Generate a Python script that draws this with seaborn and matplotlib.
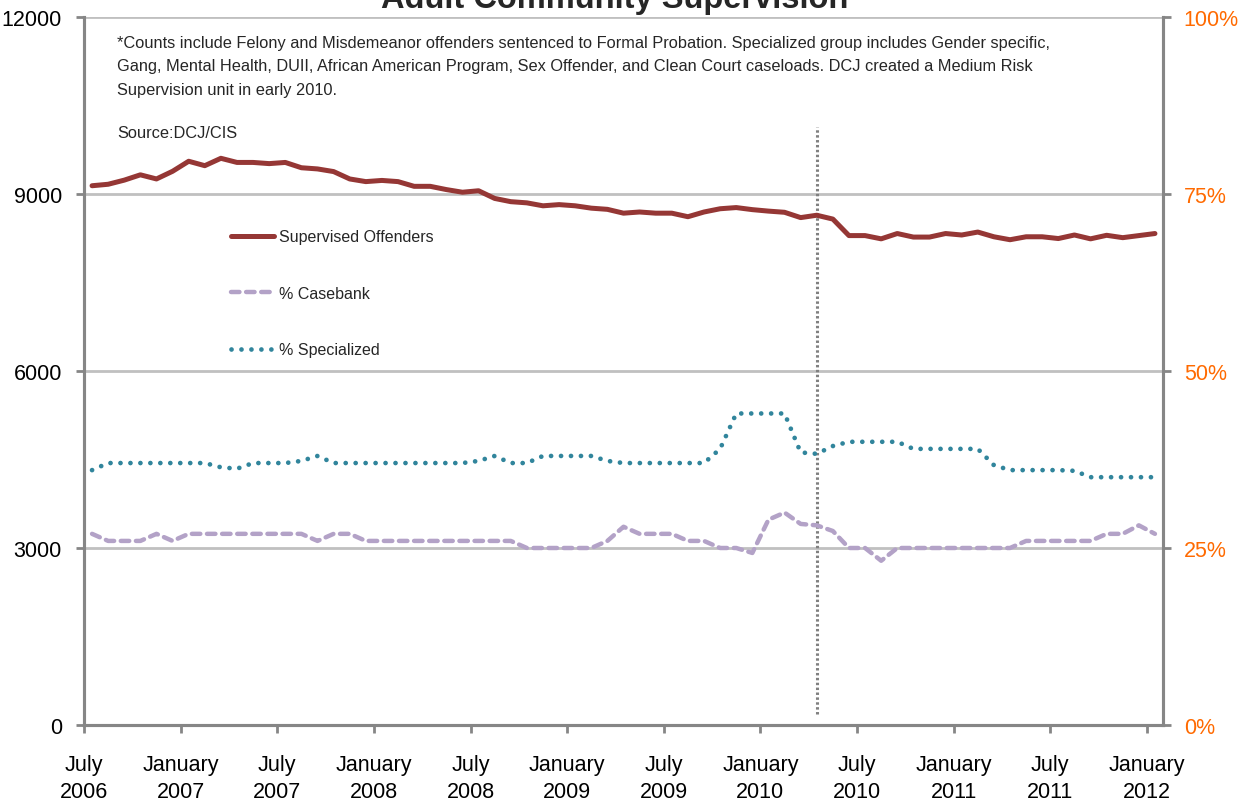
import matplotlib
matplotlib.use("Agg")
import matplotlib.pyplot as plt
import seaborn as sns
import numpy as np
import pandas as pd

# ---------------- data ----------------
months = pd.date_range("2006-07-01", "2012-01-01", freq="MS")
supervised = [9140, 9165, 9235, 9325, 9255, 9385, 9555, 9480, 9605, 9535,
              9535, 9515, 9535, 9445, 9425, 9380, 9255, 9210, 9230, 9210,
              9130, 9130, 9075, 9030, 9055, 8925, 8870, 8850, 8800, 8820,
              8800, 8760, 8740, 8675, 8695, 8675, 8675, 8615, 8695, 8750,
              8770, 8735, 8710, 8690, 8600, 8640, 8575, 8295, 8295, 8240,
              8330, 8270, 8270, 8330, 8305, 8355, 8275, 8225, 8275, 8275,
              8245, 8305, 8240, 8300, 8260, 8295, 8330]
casebank = [27, 26, 26, 26, 27, 26, 27, 27, 27, 27,
            27, 27, 27, 27, 26, 27, 27, 26, 26, 26,
            26, 26, 26, 26, 26, 26, 26, 25, 25, 25,
            25, 25, 26, 28, 27, 27, 27, 26, 26, 25,
            25, 24.3, 29, 30, 28.4, 28.2, 27.4, 25, 25, 23.2,
            25, 25, 25, 25, 25, 25, 25, 25, 26, 26,
            26, 26, 26, 27, 27, 28.2, 27]
specialized = [36, 37, 37, 37, 37, 37, 37, 37, 36.4, 36.2,
               37, 37, 37, 37.3, 38, 37, 37, 37, 37, 37,
               37, 37, 37, 37, 37.3, 38, 37, 37, 38, 38,
               38, 38, 37.3, 37, 37, 37, 37, 37, 37, 39,
               44, 44, 44, 44, 38.5, 38.3, 39.4, 40, 40, 40,
               40, 39, 39, 39, 39, 39, 36.7, 36, 36, 36,
               36, 35.9, 35, 35, 35, 35, 35]
tick_labels = ["July\n2006", "January\n2007", "July\n2007", "January\n2008",
               "July\n2008", "January\n2009", "July\n2009", "January\n2010",
               "July\n2010", "January\n2011", "July\n2011", "January\n2012"]
series_names = ["Supervised Offenders", "% Casebank", "% Specialized"]
title = "Adult Community Supervision"
note = ("*Counts include Felony and Misdemeanor offenders sentenced to Formal Probation. "
        "Specialized group includes Gender specific,\n"
        "Gang, Mental Health, DUII, African American Program, Sex Offender, and Clean Court "
        "caseloads. DCJ created a Medium Risk\n"
        "Supervision unit in early 2010.")
source = "Source:DCJ/CIS"
event_index = 45  # April 2010 marker

df = pd.DataFrame({"idx": np.arange(len(months)), "month": months,
                   "supervised": supervised, "casebank": casebank,
                   "specialized": specialized})

# ---------------- style ----------------
sns.set_theme(style="white")
plt.rcParams["font.family"] = ["Liberation Sans", "DejaVu Sans"]

RED = "#953735"
LAV = "#B3A2C7"
TEAL = "#31859C"
ORANGE = "#FF6A00"
SPINE = "#868686"
GRID = "#C0C0C0"
TICK_FS = 15.5

fig = plt.figure(figsize=(12.4, 8.03), dpi=100)
ax = fig.add_axes([84 / 1240, 1 - 726 / 803, (1163 - 84) / 1240, (726 - 18) / 803])
ax2 = ax.twinx()

sns.lineplot(data=df, x="idx", y="supervised", ax=ax, color=RED, lw=3.6,
             solid_capstyle="round", label=series_names[0], legend=False)
sns.lineplot(data=df, x="idx", y="casebank", ax=ax2, color=LAV, lw=3.2,
             legend=False, label=series_names[1])
sns.lineplot(data=df, x="idx", y="specialized", ax=ax2, color=TEAL, lw=3.4,
             legend=False, label=series_names[2])
l_case = ax2.lines[0]
l_spec = ax2.lines[1]
l_case.set_dashes((1.9, 1.5))
l_case.set_dash_capstyle("round")
l_spec.set_dashes((0.01, 2.1))
l_spec.set_dash_capstyle("round")

n = len(months)
ax.set_xlim(-0.5, n - 0.5)
ax.set_ylim(0, 12000)
ax2.set_ylim(0, 100)
ax.set_yticks([0, 3000, 6000, 9000, 12000])
ax.set_yticklabels(["0", "3000", "6000", "9000", "12000"])
ax2.set_yticks([0, 25, 50, 75, 100])
ax2.set_yticklabels(["0%", "25%", "50%", "75%", "100%"])
xt = np.arange(-0.5, n, 6)
ax.set_xticks(xt)
ax.set_xticklabels(tick_labels)
for t in ax.get_xticklabels():
    t.set_linespacing(1.35)
ax.set_xlabel("")
ax.set_ylabel("")
ax2.set_ylabel("")

ax.grid(axis="y", color=GRID, lw=2)
ax.grid(axis="x", visible=False)
ax2.grid(False)

for a in (ax, ax2):
    for s in a.spines.values():
        s.set_color(SPINE)
        s.set_linewidth(2.2)
    a.spines["top"].set_visible(False)

ax.tick_params(axis="both", which="major", direction="out", length=6, width=2,
               color=SPINE, labelsize=TICK_FS, labelcolor="black", pad=10)
ax.tick_params(axis="x", pad=15, bottom=True)
ax.tick_params(axis="y", left=True)
ax2.tick_params(axis="y", direction="out", length=6, width=2, color=SPINE,
                labelsize=TICK_FS, labelcolor=ORANGE, pad=9, right=True)

# event marker
ax.axvline(event_index, ymin=0.016, ymax=0.845, color="#808080", lw=2.2,
           ls=(0, (0.8, 0.8)), zorder=1)

# texts
ax.text(0.031, 0.975, note, transform=ax.transAxes, ha="left", va="top",
        fontsize=11.8, linespacing=1.72)
ax.text(0.031, 0.848, source, transform=ax.transAxes, ha="left", va="top",
        fontsize=11.8)
fig.text(0.496, 1 - 8 / 803, title, ha="center", va="baseline",
         fontsize=23.5, fontweight="bold")

handles = [ax.lines[0], l_case, l_spec]
leg = ax2.legend(handles, series_names, loc="upper left",
                 bbox_to_anchor=(0.136, 0.700), frameon=False, fontsize=11.5,
                 handlelength=2.7, handletextpad=0.3, labelspacing=2.6,
                 borderpad=0, borderaxespad=0)

fig.savefig("out.png", dpi=100)
